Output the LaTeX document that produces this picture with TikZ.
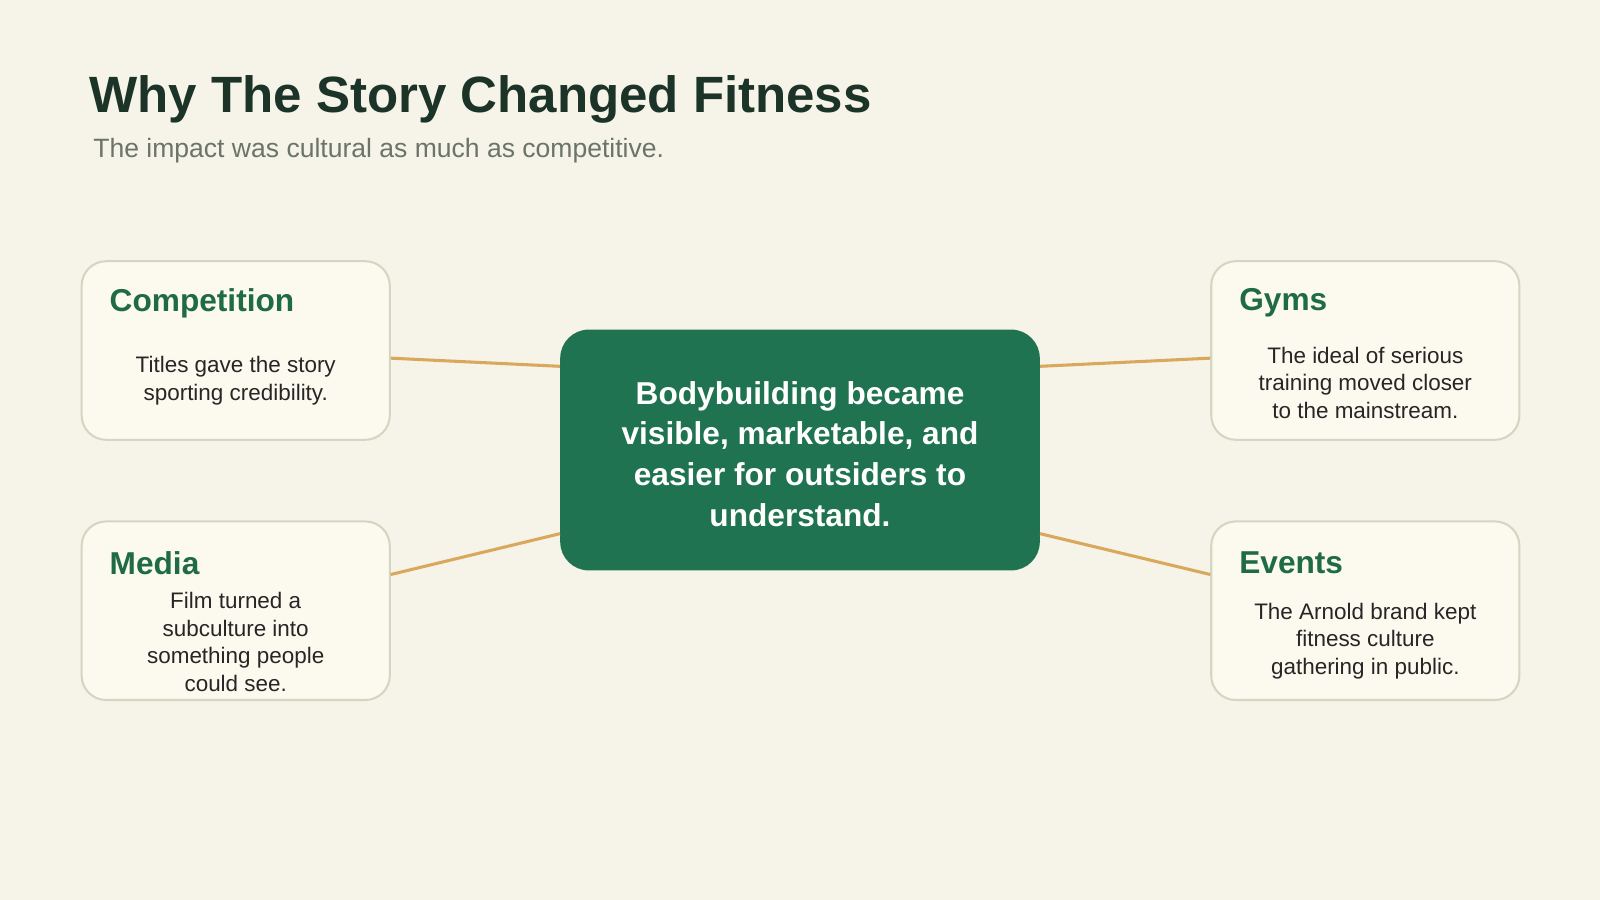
\documentclass[tikz,border=0pt]{standalone}
\usepackage{fontspec}
\setmainfont{Liberation Sans}
\definecolor{bg}{HTML}{F6F3E8}
\definecolor{boxfill}{HTML}{FCF9EF}
\definecolor{boxline}{HTML}{D3D6C0}
\definecolor{dkgreen}{HTML}{1F7350}
\definecolor{head}{HTML}{1F6B45}
\definecolor{titlec}{HTML}{1C3328}
\definecolor{subc}{HTML}{6B7468}
\definecolor{link}{HTML}{D9A85A}
\begin{document}
\begin{tikzpicture}[x=1pt,y=-1pt,
  card/.style={draw=boxline,line width=2pt,fill=boxfill,rounded corners=24pt},
  hd/.style={anchor=west,text=head,font=\fontsize{31}{36}\selectfont\bfseries},
  bd/.style={align=center,text=black!85,font=\fontsize{22}{27}\selectfont},
  conn/.style={draw=link,line width=3pt}]
\fill[bg] (0,0) rectangle (1568,882);
\useasboundingbox (0,0) rectangle (1568,882);
\node[anchor=base west,text=titlec,font=\fontsize{50}{56}\selectfont\bfseries] (title) at (84,110) {Why The Story Changed Fitness};
\node[anchor=base west,text=subc,font=\fontsize{26}{30}\selectfont] (sub) at (88,154) {The impact was cultural as much as competitive.};
\node[fill=dkgreen,rounded corners=28pt,minimum width=470pt,minimum height=236pt] (c) at (784,441) {};
\node[text=white,align=center,font=\fontsize{31}{40}\selectfont\bfseries] (ct) at (784,445) {Bodybuilding became\\visible, marketable, and\\easier for outsiders to\\understand.};
\node[card,minimum width=302pt,minimum height=175pt] (b1) at (231,343.5) {};
\node[card,minimum width=302pt,minimum height=175pt] (b2) at (231,598.5) {};
\node[card,minimum width=302pt,minimum height=175pt] (b3) at (1338,343.5) {};
\node[card,minimum width=302pt,minimum height=175pt] (b4) at (1338,598.5) {};
\node[hd] (h1) at (104,297) {Competition};
\node[hd] (h2) at (104,552) {Media};
\node[hd] (h3) at (1211,297) {Gyms};
\node[hd] (h4) at (1211,552) {Events};
\node[bd] (t1) at (231,373) {Titles gave the story\\sporting credibility.};
\node[bd] (t2) at (231,629) {Film turned a\\subculture into\\something people\\could see.};
\node[bd] (t3) at (1338,375) {The ideal of serious\\training moved closer\\to the mainstream.};
\node[bd] (t4) at (1338,628) {The Arnold brand kept\\fitness culture\\gathering in public.};
\draw[conn] (b1.east |- 0,351) -- (c.west |- 0,359);
\draw[conn] (b2.east |- 0,563) -- (c.west |- 0,523);
\draw[conn] (c.east |- 0,359) -- (b3.west |- 0,351);
\draw[conn] (c.east |- 0,523) -- (b4.west |- 0,563);
\end{tikzpicture}
\end{document}
